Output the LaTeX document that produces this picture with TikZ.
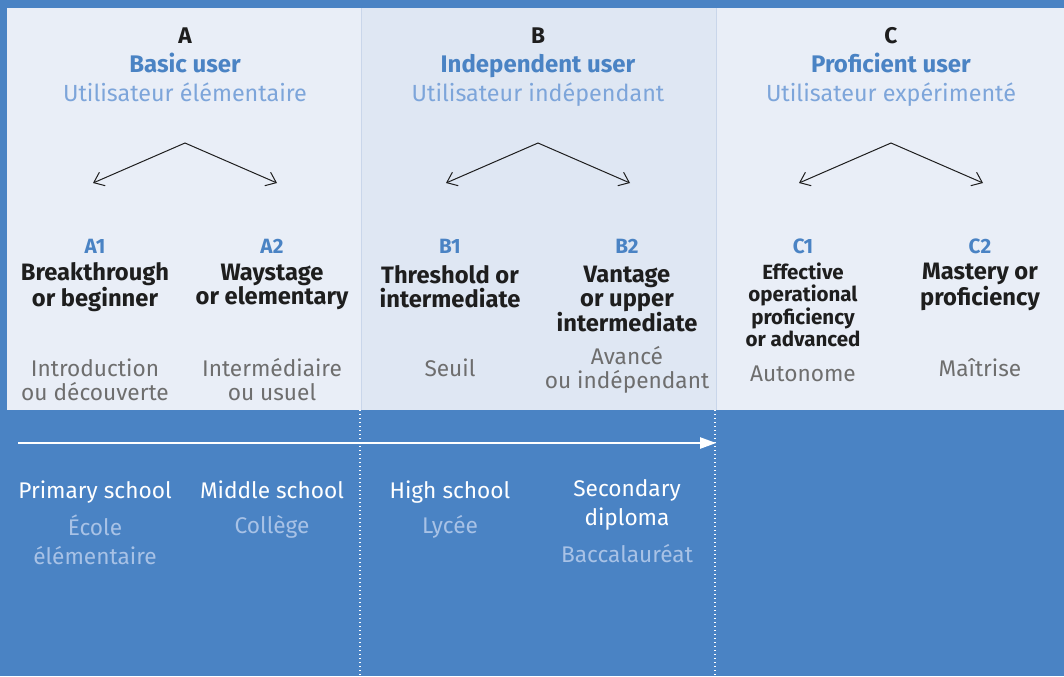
\documentclass[tikz,border=0pt]{standalone}
\usepackage{fontspec}
\setmainfont{Fira Sans}
\usepackage{xcolor}
\usetikzlibrary{arrows.meta,positioning}

\definecolor{cefrblue}{HTML}{4A83C4}
\definecolor{paneA}{HTML}{E9EEF7}
\definecolor{paneB}{HTML}{DFE7F3}
\definecolor{paneline}{HTML}{C9D6EA}
\definecolor{frblue}{HTML}{7DA5DA}
\definecolor{frgrey}{HTML}{6E6E6E}
\definecolor{schoolfr}{HTML}{A8C2E6}
\definecolor{inkdark}{HTML}{1E1E1E}

\tikzset{
  grpletter/.style={font=\bfseries\fontsize{17}{18}\selectfont, text=inkdark, anchor=base},
  grpname/.style={font=\bfseries\fontsize{18}{18}\selectfont, text=cefrblue, anchor=base},
  grpfr/.style={font=\fontsize{17.5}{18}\selectfont, text=frblue, anchor=base},
  lvlcode/.style={font=\bfseries\fontsize{15.5}{16}\selectfont, text=cefrblue, anchor=base},
  lvlname/.style={font=\bfseries\fontsize{17.8}{18}\selectfont, text=inkdark, align=center},
  lvlsmall/.style={font=\bfseries\fontsize{15.4}{16.9}\selectfont, text=inkdark, align=center},
  lvlfr/.style={font=\fontsize{17}{18}\selectfont, text=frgrey, align=center},
  school/.style={font=\fontsize{17}{21.75}\selectfont, text=white, align=center},
  schoolfrtxt/.style={font=\fontsize{17}{21.75}\selectfont, text=schoolfr, align=center},
  split/.style={draw=inkdark, line width=0.75pt,
    {Straight Barb[length=7pt,width=11pt]}-{Straight Barb[length=7pt,width=11pt]}},
  agearrow/.style={draw=white, line width=1.1pt, -{Triangle[length=12pt,width=8.5pt]}},
  divider/.style={draw=white, line width=0.8pt, dash pattern=on 0.8pt off 2.2pt}
}

\begin{document}
\begin{tikzpicture}[x=0.75pt,y=-0.75pt]
\useasboundingbox (0,0) rectangle (1064,676);
\fill[cefrblue] (0,0) rectangle (1064,676);

% the three panels
\fill[paneA] (7,8) rectangle (361,410);
\fill[paneB] (361,8) rectangle (716,410);
\fill[paneA] (716,8) rectangle (1064,410);
\draw[paneline, line width=0.75pt] (361,8) -- (361,410);
\draw[paneline, line width=0.75pt] (716,8) -- (716,410);

% group headings
\node[grpletter] (grpA) at (185,43) {A};
\node[grpname] (nameA) at (185,72) {Basic user};
\node[grpfr] (frA) at (185,101) {Utilisateur élémentaire};
\node[grpletter] (grpB) at (538,43) {B};
\node[grpname] (nameB) at (538,72) {Independent user};
\node[grpfr] (frB) at (538,101) {Utilisateur indépendant};
\node[grpletter] (grpC) at (891,43) {C};
\node[grpname] (nameC) at (891,72) {Proficient user};
\node[grpfr] (frC) at (891,101) {Utilisateur expérimenté};

% split arrows
\foreach \g/\x in {A/185,B/538,C/891} {
  \coordinate (top\g) at (\x,143);
  \coordinate (left\g) at (\x-92,183);
  \coordinate (right\g) at (\x+92,183);
  \draw[split] (left\g) -- (top\g) -- (right\g);
}

% levels
\node[lvlcode] (lvlA1) at (95,253) {A1};
\node[lvlcode] (lvlA2) at (272,253) {A2};
\node[lvlcode] (lvlB1) at (450,253) {B1};
\node[lvlcode] (lvlB2) at (627,253) {B2};
\node[lvlcode] (lvlC1) at (803,253) {C1};
\node[lvlcode] (lvlC2) at (980,253) {C2};

\node[lvlname] (enA1) at (95,287) {Breakthrough\\or beginner};
\node[lvlname] (enA2) at (272,287) {Waystage\\or elementary};
\node[lvlname] (enB1) at (450,287) {Threshold or\\intermediate};
\node[lvlname] (enB2) at (627,299) {Vantage\\or upper\\intermediate};
\node[lvlsmall] (enC1) at (803,305) {Effective\\operational\\proficiency\\or advanced};
\node[lvlname] (enC2) at (980,287) {Mastery or\\proficiency};

\node[lvlfr] (frA1) at (95,380) {Introduction\\ou découverte};
\node[lvlfr] (frA2) at (272,380) {Intermédiaire\\ou usuel};
\node[lvlfr, anchor=base] (frB1) at (450,376.5) {Seuil};
\node[lvlfr] (frB2) at (627,370) {Avancé\\ou indépendant};
\node[lvlfr, anchor=base] (frC1) at (803,381) {Autonome};
\node[lvlfr, anchor=base] (frC2) at (980,376.5) {Maîtrise};

% school ages
\coordinate (ageStart) at (18,443);
\coordinate (ageEnd) at (716,443);
\draw[agearrow] (ageStart) -- (ageEnd);
\coordinate (divB) at (360,410);
\coordinate (divBend) at (360,676);
\coordinate (divC) at (715,410);
\coordinate (divCend) at (715,676);
\draw[divider] (divB) -- (divBend);
\draw[divider] (divC) -- (divCend);

\node[school, anchor=base] (schA1) at (95,498.5) {Primary school};
\node[schoolfrtxt] (schfrA1) at (95,539.5) {École\\élémentaire};
\node[school, anchor=base] (schA2) at (272,498.5) {Middle school};
\node[schoolfrtxt, anchor=base] (schfrA2) at (272,533.5) {Collège};
\node[school, anchor=base] (schB1) at (450,498.5) {High school};
\node[schoolfrtxt, anchor=base] (schfrB1) at (450,533.5) {Lycée};
\node[school] (schB2) at (627,504.5) {Secondary\\diploma};
\node[schoolfrtxt, anchor=base] (schfrB2) at (627,562.5) {Baccalauréat};
\end{tikzpicture}
\end{document}
